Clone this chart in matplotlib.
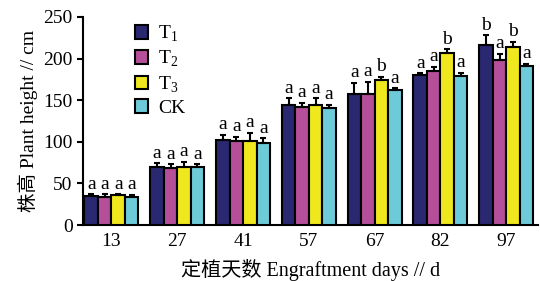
import numpy as np
import matplotlib
matplotlib.use("Agg")
import matplotlib.pyplot as plt

plt.rcParams['font.family'] = ['Liberation Serif', 'Noto Sans CJK SC']
plt.rcParams['mathtext.fontset'] = 'custom'
plt.rcParams['mathtext.rm'] = 'Liberation Serif'

days = ['13', '27', '41', '57', '67', '82', '97']
series = ['T$_1$', 'T$_2$', 'T$_3$', 'CK']
colors = ['#2a2870', '#b64f9a', '#f0e81e', '#6dcbd9']

t1 = [35, 70, 102, 144, 157, 180, 216]
t2 = [34, 69, 101, 142, 157, 185, 198]
t3 = [36, 70, 101, 144, 174, 207, 214]
ck = [34, 70, 98, 140, 162, 179, 191]

t1_err = [2, 4, 6, 8, 14, 2, 12]
t2_err = [3, 4, 5, 5, 15, 5, 8]
t3_err = [1, 6, 10, 8, 4, 4, 6]
ck_err = [2, 3, 6, 4, 2, 4, 3]

t1_sig = ['a', 'a', 'a', 'a', 'a', 'a', 'b']
t2_sig = ['a', 'a', 'a', 'a', 'a', 'a', 'a']
t3_sig = ['a', 'a', 'a', 'a', 'b', 'b', 'b']
ck_sig = ['a', 'a', 'a', 'a', 'a', 'a', 'a']

values = [t1, t2, t3, ck]
errors = [t1_err, t2_err, t3_err, ck_err]
sigs = [t1_sig, t2_sig, t3_sig, ck_sig]

fig = plt.figure(figsize=(5.4, 2.81), dpi=100)
ax = fig.add_axes([0.154, 0.199, 0.842, 0.741])

x = np.arange(len(days))
w = 0.205
for i in range(4):
    pos = x + (i - 1.5) * w
    ax.bar(pos, values[i], w, color=colors[i], edgecolor='black', linewidth=1.5,
           label=series[i], zorder=3)
    ax.errorbar(pos, values[i], yerr=[np.zeros(len(days)), errors[i]], fmt='none',
                ecolor='black', elinewidth=1.5, capsize=2.5, capthick=1.5, zorder=4)
    for p, v, e, s in zip(pos, values[i], errors[i], sigs[i]):
        ax.text(p, v + e + 2, s, ha='center', va='bottom', fontsize=14)

ax.set_xlim(-0.43, 6.48)
ax.set_ylim(0, 250)
ax.set_yticks([0, 50, 100, 150, 200, 250])
ax.set_xticks(x)
ax.set_xticklabels(days)
ax.tick_params(axis='y', direction='out', length=4, width=1.5, labelsize=14)
ax.tick_params(axis='x', length=0, labelsize=14, pad=6)
for s in ['top', 'right']:
    ax.spines[s].set_visible(False)
ax.spines['left'].set_linewidth(1.5)
ax.spines['bottom'].set_linewidth(1.5)

ax.set_ylabel('株高 Plant height // cm', fontsize=14)
ax.set_xlabel('定植天数 Engraftment days // d', fontsize=14.5, labelpad=6)

ax.legend(loc='upper left', bbox_to_anchor=(0.075, 1.05), frameon=False, fontsize=14,
          handlelength=0.7, handleheight=0.7, handletextpad=0.5, labelspacing=0.25)

fig.savefig('out.png', dpi=100)
